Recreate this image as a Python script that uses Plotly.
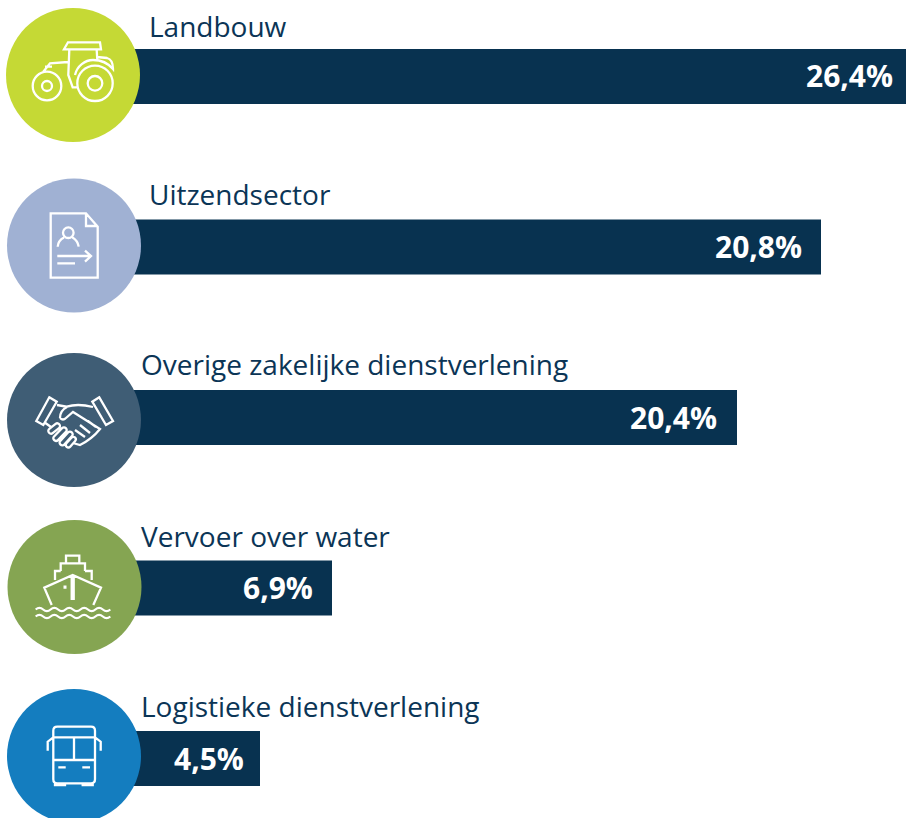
import math
import re
import plotly.graph_objects as go

categories = ["Landbouw", "Uitzendsector", "Overige zakelijke dienstverlening",
              "Vervoer over water", "Logistieke dienstverlening"]
bar_values = [26.4, 23.2, 20.4, 6.9, 4.5]
value_labels = ["26,4%", "20,8%", "20,4%", "6,9%", "4,5%"]
circle_colors = ["#C5D935", "#A0B1D3", "#3F5D75", "#85A552", "#147DBF"]

W, H = 906, 818
BAR = "#083250"
TXT = "#0B3556"
X0_PX, PX_PER_UNIT = 125, 30
Y0_PX, ROW_PX = 76.5, 170.5

label_left = [147, 147, 139, 139, 139]
label_mid = [26, 194, 364, 536, 706]
value_right = [895, 804, 719, 315, 246]
value_mid = [75.5, 246.5, 417, 587.5, 758]
centers = [(73, 75), (74, 245.5), (74, 420), (74.5, 587), (74, 756)]
R = 67


def circ(cx, cy, r):
    k = 0.5523 * r
    return (f"M{cx-r},{cy} C{cx-r},{cy-k} {cx-k},{cy-r} {cx},{cy-r} "
            f"C{cx+k},{cy-r} {cx+r},{cy-k} {cx+r},{cy} "
            f"C{cx+r},{cy+k} {cx+k},{cy+r} {cx},{cy+r} "
            f"C{cx-k},{cy+r} {cx-r},{cy+k} {cx-r},{cy} Z ")


def capsule(x1, y1, x2, y2, r):
    d = math.hypot(x2 - x1, y2 - y1)
    ux, uy = (x2 - x1) / d, (y2 - y1) / d
    nx, ny = -uy * r, ux * r
    ex, ey = ux * r * 1.3, uy * r * 1.3
    return (f"M{x1+nx:.2f},{y1+ny:.2f} L{x2+nx:.2f},{y2+ny:.2f} "
            f"C{x2+nx+ex:.2f},{y2+ny+ey:.2f} {x2-nx+ex:.2f},{y2-ny+ey:.2f} {x2-nx:.2f},{y2-ny:.2f} "
            f"L{x1-nx:.2f},{y1-ny:.2f} "
            f"C{x1-nx-ex:.2f},{y1-ny-ey:.2f} {x1+nx-ex:.2f},{y1+ny-ey:.2f} {x1+nx:.2f},{y1+ny:.2f} Z ")


def wave(x0, x1, y, n, a):
    step = (x1 - x0) / n
    s = f"M{x0},{y} "
    for i in range(n):
        xa = x0 + i * step
        s += f"Q{xa+step/4},{y-a*2} {xa+step/2},{y} Q{xa+3*step/4},{y+a*2} {xa+step},{y} "
    return s


tractor = (
    circ(95, 83.3, 17.7) + circ(95, 83.3, 7.3) + circ(47, 86, 14.3) + circ(47, 86, 5) +
    "M64,49.3 L68,42.3 L100,42.3 L101,49.3 Z "
    "M69.3,50 L68.3,75 L72.7,87.3 L78,87.3 "
    "M96.7,50 L97.3,60 "
    "M68,62 L50,63.3 L43.3,71.7 "
    "M45,66.7 L52,66.7 "
    "M75,75 C77,66 85,60 93,60 C100,60 108,63 113,69 C113,63 111,59 107,58 L97,57 "
)
document = (
    "M50.7,213.3 L86,213.3 L97.7,226.7 L97.7,277.7 L50.7,277.7 Z "
    "M86,213.3 L86,226 L97.7,226 " +
    circ(68.3, 232.7, 5.3) +
    "M57.7,246.7 C58,242 61,239 64,237.5 M72.5,237.5 C75,239 78,242 78.7,246.7 "
    "M57.3,256 L90.7,256 M85,250.7 L91,256 L85,261.7 M57.3,263.3 L75,263.3 "
)
handshake = (
    "M49.3,397.3 L56.7,401.7 L43.3,425 L36.3,421 Z "
    "M99.3,397.3 L92.3,401.7 L106,425 L113,421 Z "
    "M57,405 L66.7,406.7 C75,404 85,405 93,407 "
    "M60,418 C60,413 63,409 67,407 "
    "M60,418 C62,420 64,420 66,418 L73,412 L100,429 C96,434 88,441 80,445 L73,443 "
    "M44,422 L51,427 "
    "M75,430 L85,437 M80,425 L90,433 M88,421 L96,427 " +
    capsule(51, 431, 57.3, 426, 2.7) +
    capsule(56, 438.3, 64, 430, 2.7) +
    capsule(62.3, 442.7, 70, 434.3, 2.7) +
    capsule(68.3, 445, 73.3, 439.3, 2.5)
)
ship = (
    "M66,555.7 L79.3,555.7 L79.3,563.3 L66,563.3 Z "
    "M60.7,571 L60.7,563.3 L85,563.3 L85,571 "
    "M60.7,571 L55,571 L55,580 M85,571 L91.7,571 L91.7,580 "
    "M51.7,605 L44.3,587.7 L72.7,575 L101,587.7 L93.3,605 "
    "M72.7,575 L72.7,600 M71.7,575 L71.7,600 M73.7,575 L73.7,600 "
    "M63.5,586.7 L66.5,586.7 M63.5,587.7 L66.5,587.7 " +
    wave(35.7, 110.3, 609.5, 5, 1.6) + wave(35.7, 110.3, 616.5, 5, 1.6)
)
bus = (
    "M57.3,726.7 L91,726.7 C93.5,726.7 95,728.2 95,730.7 L95,779.3 "
    "C95,781.8 93.5,783.3 91,783.3 L57.3,783.3 C54.8,783.3 53.3,781.8 53.3,779.3 "
    "L53.3,730.7 C53.3,728.2 54.8,726.7 57.3,726.7 Z "
    "M53.3,737.3 L95,737.3 M53.3,760 L95,760 M74,737.3 L74,760 "
    "M58.3,767.3 L65.7,767.3 M82.3,767.3 L90,767.3 "
    "M55,783.3 L55,785 L65,785 L65,783.3 M82.7,783.3 L82.7,785 L92.7,785 L92.7,783.3 "
    "M53.3,737.3 L47.7,741.7 L47.7,750.7 M95,737.3 L100.7,741.7 L100.7,750.7 "
)
icons = [tractor, document, handshake, ship, bus]


def relative(path, cx, cy):
    """Page-pixel path -> pixel offsets from the anchor (y grows upward there)."""
    out, is_x = [], True
    for tok in re.findall(r"[MLQCZ]|-?\d+\.?\d*", path):
        if tok in "MLQCZ":
            out.append(tok)
            is_x = True
        else:
            v = float(tok)
            out.append(f"{v-cx:.2f}" if is_x else f"{cy-v:.2f}")
            is_x = not is_x
    return " ".join(out)


shapes = []
for (cx, cy), col, icon in zip(centers, circle_colors, icons):
    ax, ay = cx / W, 1 - cy / H
    shapes.append(dict(type="circle", layer="above", xref="paper", yref="paper",
                       xsizemode="pixel", ysizemode="pixel", xanchor=ax, yanchor=ay,
                       x0=-R, x1=R, y0=-R, y1=R, fillcolor=col, line_width=0))
    shapes.append(dict(type="path", layer="above", xref="paper", yref="paper",
                       xsizemode="pixel", ysizemode="pixel", xanchor=ax, yanchor=ay,
                       path=relative(icon, cx, cy), line=dict(color="white", width=2.3),
                       fillcolor="rgba(0,0,0,0)"))

annotations = []
for cat, left, mid in zip(categories, label_left, label_mid):
    annotations.append(dict(text=cat, xref="paper", yref="paper", x=left / W, y=1 - mid / H,
                            xanchor="left", yanchor="middle", showarrow=False,
                            font=dict(family="Open Sans", size=28, color=TXT)))
for lab, mid, right in zip(value_labels, value_mid, value_right):
    annotations.append(dict(text=f"<b>{lab}</b>", xref="paper", yref="paper", x=right / W,
                            y=1 - mid / H, xanchor="right", yanchor="middle", showarrow=False,
                            font=dict(family="Open Sans", size=30, color="white")))

fig = go.Figure(go.Bar(y=categories, x=bar_values, orientation="h", base=0,
                       width=55 / ROW_PX, marker=dict(color=BAR, line_width=0),
                       hoverinfo="skip"))
fig.update_layout(
    width=W, height=H, margin=dict(l=0, r=0, t=0, b=0), autosize=False,
    paper_bgcolor="white", plot_bgcolor="white", showlegend=False,
    xaxis=dict(range=[-X0_PX / PX_PER_UNIT, (W - X0_PX) / PX_PER_UNIT], visible=False, fixedrange=True),
    yaxis=dict(range=[(H - Y0_PX) / ROW_PX, -Y0_PX / ROW_PX], visible=False, fixedrange=True,
               type="category", categoryorder="array", categoryarray=categories),
    shapes=shapes, annotations=annotations,
)
fig.write_html("out.html", config=dict(displayModeBar=False),
               post_script="document.body.style.margin='0';document.body.style.overflow='hidden';")
